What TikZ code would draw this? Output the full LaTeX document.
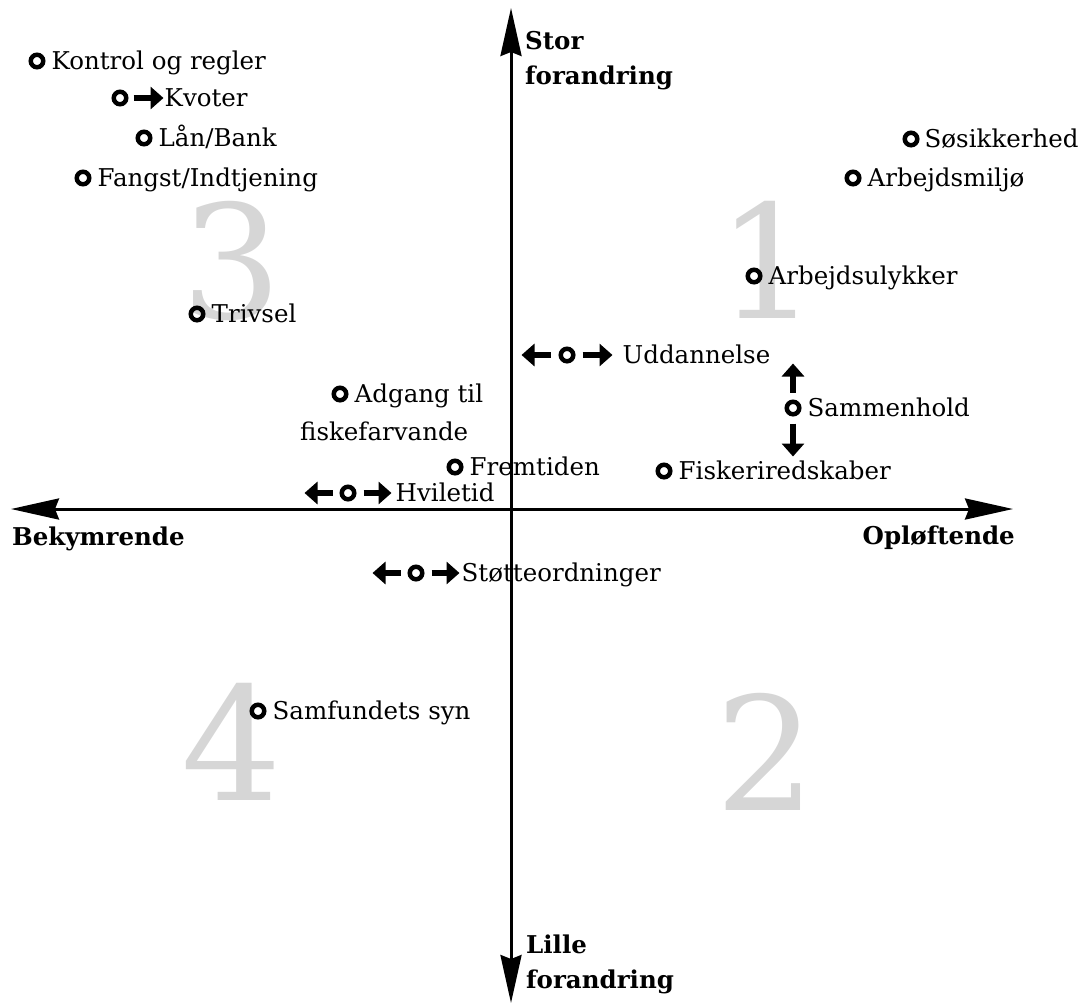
\documentclass[tikz,border=0pt]{standalone}
\usepackage{fontspec}
\setmainfont{DejaVu Serif}
\usetikzlibrary{arrows.meta}
\definecolor{numgray}{RGB}{214,214,214}
\tikzset{
  item/.style={circle,draw,line width=4.5pt,minimum size=12.5pt,inner sep=0pt},
  lbl/.style={anchor=base west,inner sep=0pt,font=\fontsize{24.5}{38}\selectfont,align=left},
  axis/.style={line width=3pt,{Stealth[length=48pt,width=21pt,inset=4pt]}-{Stealth[length=48pt,width=21pt,inset=4pt]}},
  mv/.style={line width=6.5pt,-{Triangle[length=13pt,width=22pt]}},
  axlbl/.style={anchor=base west,inner sep=0pt,font=\bfseries\fontsize{24.5}{35}\selectfont,align=left},
  big/.style={anchor=base,inner sep=0pt,text=numgray,font=\fontsize{158}{158}\selectfont}
}
\begin{document}
\begin{tikzpicture}[x=1pt,y=-1pt]
    \useasboundingbox (0,0) rectangle (1091,1004);
    % quadrant numbers
    \node[big] (q1) at (768,318) {1};
    \node[big] (q2) at (766,810) {2};
    \node[big] (q3) at (232,318) {3};
    \node[big] (q4) at (232,800) {4};

    % axes
    \coordinate (top) at (511,8);
    \coordinate (bot) at (511,1003);
    \coordinate (lft) at (11,509);
    \coordinate (rgt) at (1013,509);
    \draw[axis] (bot) -- (top);
    \draw[axis] (lft) -- (rgt);
    \node[axlbl] (stor) at (525,84) {Stor\\forandring};
    \node[axlbl] (lille) at (526,988) {Lille\\forandring};
    \node[axlbl] (bek) at (12,545) {Bekymrende};
    \node[axlbl,anchor=base east] (opl) at (1015,544) {Opløftende};

    % quadrant 3
    \node[item] (kontrol) at (37,61) {};
    \node[lbl] at ([shift={(6,8)}]kontrol.east) {Kontrol og regler};
    \node[item] (kvoter) at (120,98) {};
    \draw[mv] ([xshift=5]kvoter.east) -- ++(30,0) coordinate (kvoterpil);
    \node[lbl] at ([shift={(1,8)}]kvoterpil) {Kvoter};
    \node[item] (laan) at (144,138) {};
    \node[lbl] at ([shift={(6,8)}]laan.east) {Lån/Bank};
    \node[item] (fangst) at (83,178) {};
    \node[lbl] at ([shift={(6,8)}]fangst.east) {Fangst/Indtjening};
    \node[item] (trivsel) at (197,314) {};
    \node[lbl] at ([shift={(6,8)}]trivsel.east) {Trivsel};
    \node[item] (adgang) at (340,394) {};
    \node[lbl] at ([shift={(6,8)}]adgang.east) {Adgang til};
    \node[lbl] at (300,440) {fiskefarvande};
    \node[item] (fremtid) at (455,467) {};
    \node[lbl] at ([shift={(6,8)}]fremtid.east) {Fremtiden};
    \node[item] (hvile) at (348,493) {};
    \draw[mv] ([xshift=-7]hvile.west) -- ++(-28,0);
    \draw[mv] ([xshift=7]hvile.east) -- ++(28,0) coordinate (hvilepil);
    \node[lbl] at ([shift={(4,8)}]hvilepil) {Hviletid};

    % quadrant 4
    \node[item] (stoette) at (416,573) {};
    \draw[mv] ([xshift=-7]stoette.west) -- ++(-28,0);
    \draw[mv] ([xshift=7]stoette.east) -- ++(28,0) coordinate (stoettepil);
    \node[lbl] at ([shift={(2,8)}]stoettepil) {Støtteordninger};
    \node[item] (samfund) at (258,711) {};
    \node[lbl] at ([shift={(6,8)}]samfund.east) {Samfundets syn};

    % quadrant 1
    \node[item] (soe) at (911,139) {};
    \node[lbl] at ([shift={(5,8)}]soe.east) {Søsikkerhed};
    \node[item] (miljoe) at (853,178) {};
    \node[lbl] at ([shift={(6,8)}]miljoe.east) {Arbejdsmiljø};
    \node[item] (ulykke) at (754,276) {};
    \node[lbl] at ([shift={(6,8)}]ulykke.east) {Arbejdsulykker};
    \node[item] (uddan) at (567,355) {};
    \draw[mv] ([xshift=-8]uddan.west) -- ++(-29,0);
    \draw[mv] ([xshift=7]uddan.east) -- ++(30,0) coordinate (uddanpil);
    \node[lbl] at ([shift={(10,8)}]uddanpil) {Uddannelse};
    \node[item] (samhold) at (793,408) {};
    \draw[mv] ([yshift=7]samhold.north) -- ++(0,-29);
    \draw[mv] ([yshift=-7]samhold.south) -- ++(0,33);
    \node[lbl] at ([shift={(6,8)}]samhold.east) {Sammenhold};
    \node[item] (redskab) at (664,471) {};
    \node[lbl] at ([shift={(6,8)}]redskab.east) {Fiskeriredskaber};
\end{tikzpicture}
\end{document}
